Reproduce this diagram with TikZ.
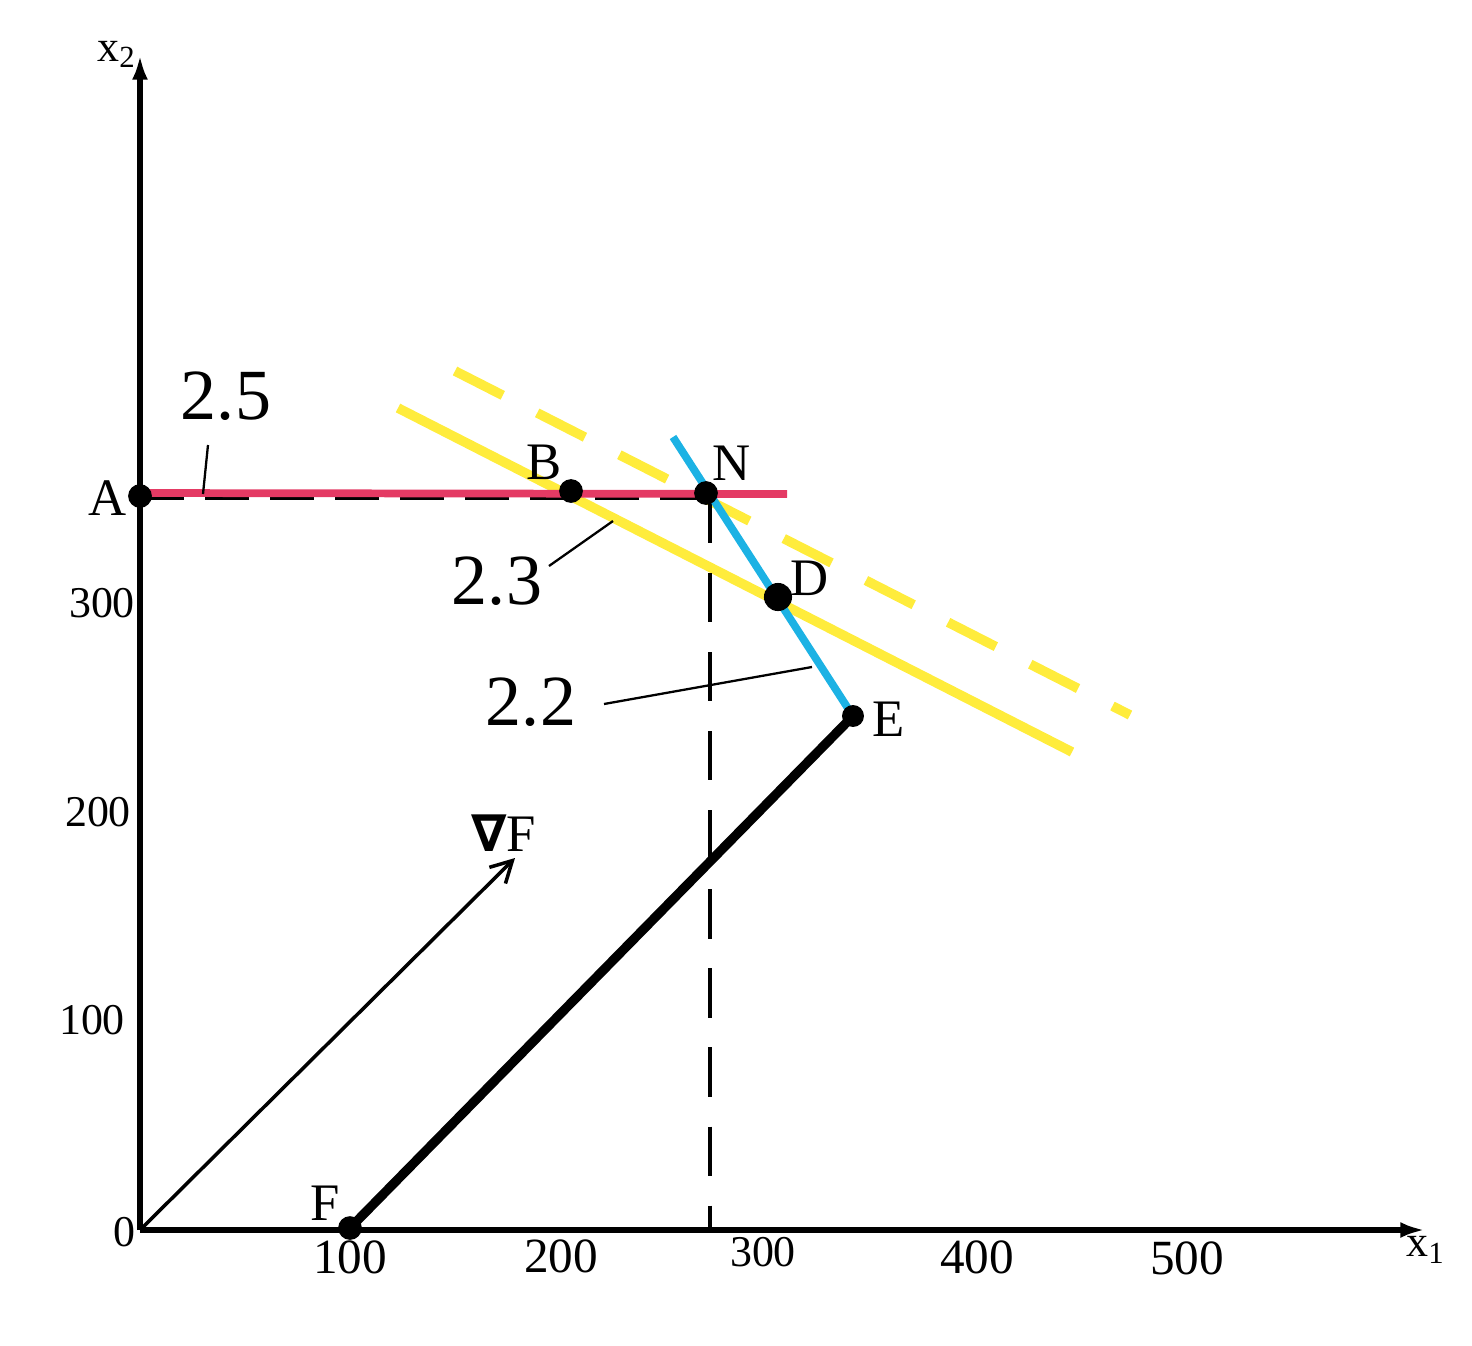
\documentclass[tikz,border=0pt]{standalone}
\usepackage{fontspec}
\setmainfont{Liberation Serif}
\newfontfamily\nablafont{DejaVu Sans}
\usetikzlibrary{arrows.meta}
\definecolor{redl}{RGB}{228,58,100}
\definecolor{yell}{RGB}{255,236,60}
\definecolor{bluel}{RGB}{28,178,228}
\tikzset{
  axis/.style={line width=3pt,-{Latex[length=14pt,width=9pt]}},
  pt/.style={circle,fill=black,inner sep=0pt,minimum size=#1},
  pt/.default=13.5pt,
  lbl/.style={font=\fontsize{30}{32}\selectfont,inner sep=0pt},
  num/.style={font=\fontsize{41}{44}\selectfont,inner sep=0pt},
  tick/.style={font=\fontsize{25}{27}\selectfont,inner sep=0pt},
  tickb/.style={font=\fontsize{28}{30}\selectfont,inner sep=0pt},
  leader/.style={line width=1.3pt},
}
\begin{document}
\begin{tikzpicture}[x=0.02cm,y=-0.02cm]
\useasboundingbox (0,0) rectangle (1472,1346);
% coordinates
\coordinate (O) at (140,1230);
\coordinate (Xend) at (1425,1230);
\coordinate (Yend) at (140,55);
\coordinate (Rend) at (787,494);
\coordinate (Vend) at (710,1230);
\coordinate (Ys) at (398,408);
\coordinate (Ye) at (1072,752);
\coordinate (Yds) at (455,371);
\coordinate (Yde) at (1130,715);
\coordinate (Bs) at (673,437);
\coordinate (Be) at (851,713);
\coordinate (G) at (515,858);
% axes
\draw[axis] (O) -- (Xend);
\draw[axis] (O) -- (Yend);
\node[tick,anchor=south west] (x2) at (97,68) {x\textsubscript{2}};
\node[tick,anchor=north west] (x1) at (1406,1236) {x\textsubscript{1}};
% yellow lines
\draw[yell,line width=5.5pt] (Ys) -- (Ye);
\draw[yell,line width=5.5pt,dash pattern=on 30.5pt off 22pt] (Yds) -- (Yde);
% black dashed lines
\draw[line width=2.2pt,dash pattern=on 25pt off 12pt] (140,498) -- (706,498);
\draw[line width=2.2pt,dash pattern=on 28pt off 17pt] (710,494) -- (Vend);
% red line
\draw[redl,line width=4.4pt] (140,493) -- (Rend);
% blue line
\draw[bluel,line width=4.4pt] (Bs) -- (Be);
% thick black
\coordinate (Ec) at (853,716);
\coordinate (Fc) at (350,1228);
\draw[line width=5.3pt] (Ec) -- (Fc);
% gradient arrow
\draw[line width=2pt,-{Straight Barb[length=12pt,width=13pt,line width=2pt]}] (O) -- (G);
% points
\node[pt] (A) at (140,496) {};
\node[pt] (B) at (571,491) {};
\node[pt] (N) at (706,493) {};
\node[pt=16pt] (D) at (778,597) {};
\node[pt=12.5pt] (E) at (Ec) {};
\node[pt] (F) at (Fc) {};
% point labels
\node[lbl] (lA) at (108,498) {A};
\node[lbl] (lB) at (544,462) {B};
\node[lbl] (lN) at (732,463) {N};
\node[lbl] (lD) at (810,578) {D};
\node[lbl] (lE) at (889,719) {E};
\node[lbl] (lF) at (325,1203) {F};
\node[lbl,anchor=base west] (grad) at (471,851) {{\nablafont\bfseries\fontsize{29}{31}\selectfont ∇}F};
% constraint labels
\node[num] (n25) at (226,396) {2.5};
\node[num] (n23) at (497,581) {2.3};
\node[num] (n22) at (531,702) {2.2};
\draw[leader] (208,445) -- (203,494);
\draw[leader] (549,566) -- (613,521);
\draw[leader] (604,704) -- (812,667);
% ticks
\node[tick] (t0) at (124,1232) {0};
\node[tick] (y100) at (92,1020) {100};
\node[tick] (y200) at (98,812) {200};
\node[tick] (y300) at (102,603) {300};
\node[tickb] (x100) at (350,1257) {100};
\node[tickb] (x200) at (561,1256) {200};
\node[tick] (x300) at (763,1252) {300};
\node[tickb] (x400) at (977,1257) {400};
\node[tickb] (x500) at (1187,1258) {500};
\end{tikzpicture}
\end{document}
